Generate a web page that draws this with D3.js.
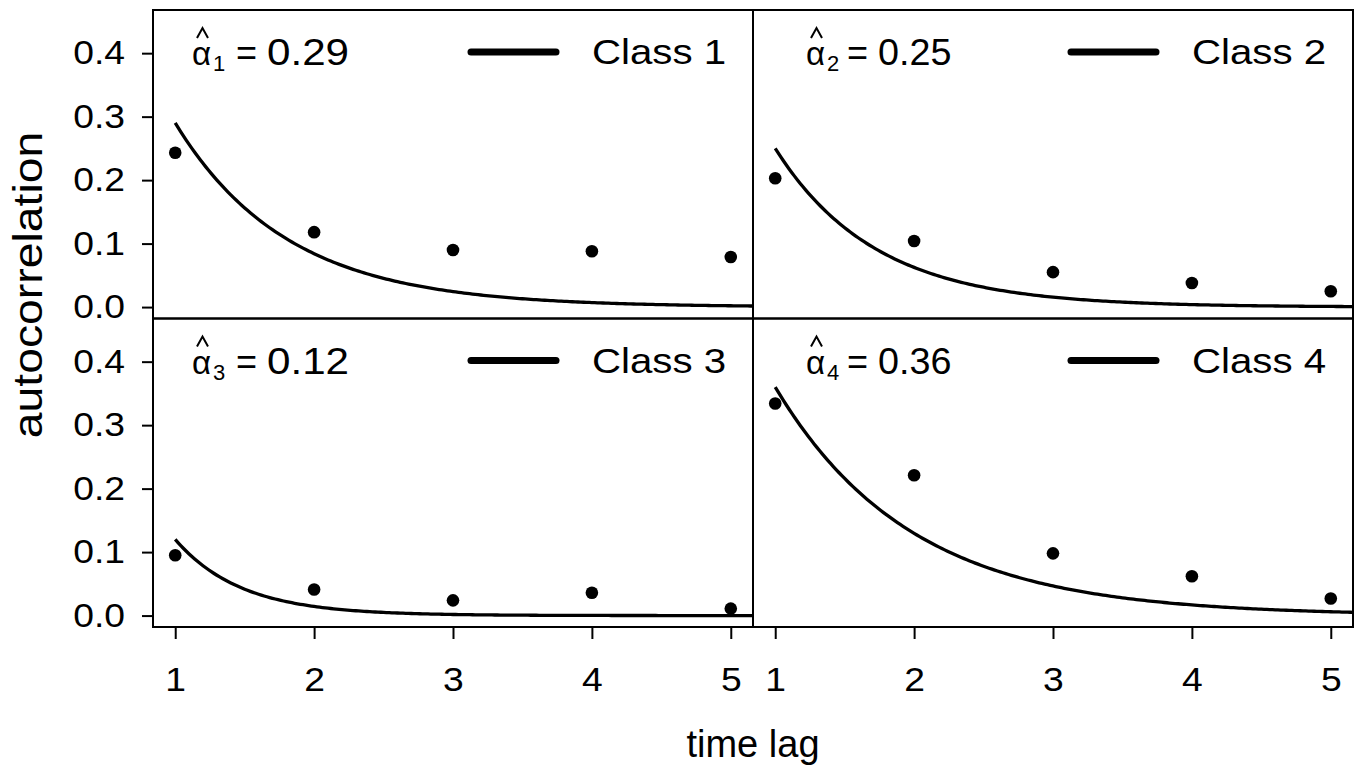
<!DOCTYPE html>
<html>
<head>
<meta charset="utf-8">
<script src="https://cdn.jsdelivr.net/npm/d3@7"></script>
<style>
  body { margin: 0; background: #fff; }
  text { font-family: "Liberation Sans", Arial, Helvetica, sans-serif; fill: #000; }
</style>
</head>
<body>
<div id="chart"></div>
<script>
// autocorrelation by time lag, one panel per class
const classes = ['Class 1', 'Class 2', 'Class 3', 'Class 4'];
const alphas = [0.29, 0.25, 0.12, 0.36];
const lags = [1, 2, 3, 4, 5];
const acfClass1 = [0.243, 0.118, 0.090, 0.088, 0.079];
const acfClass2 = [0.203, 0.104, 0.055, 0.038, 0.025];
const acfClass3 = [0.095, 0.041, 0.024, 0.036, 0.011];
const acfClass4 = [0.334, 0.221, 0.098, 0.062, 0.027];
const acf = [acfClass1, acfClass2, acfClass3, acfClass4];
const yTicks = [0.0, 0.1, 0.2, 0.3, 0.4];
const xTicks = [1, 2, 3, 4, 5];

const margin = {top: 10, left: 153};
const panelW = 600;
const panelH = 308.5;
const width = 1361, height = 768;
const stretch = 1.13; // glyphs in the original are a bit wider than Liberation Sans

const svg = d3.select('#chart').append('svg')
    .attr('width', width)
    .attr('height', height);

const x = d3.scaleLinear().domain([0.84, 5.16]).range([0, panelW]);
const y = d3.scaleLinear().domain([-0.018, 0.468]).range([panelH, 0]);

const line = d3.line()
    .x(d => x(d[0]))
    .y(d => y(d[1]));

classes.forEach((name, i) => {
  const col = i % 2, row = Math.floor(i / 2);
  const g = svg.append('g')
      .attr('transform', `translate(${margin.left + col * panelW},${margin.top + row * panelH})`);

  // fitted curve alpha^lag across the panel
  const tGrid = d3.range(1, 5.16, 0.02).concat([5.16]);
  g.append('path')
      .datum(tGrid.map(t => [t, Math.pow(alphas[i], t)]))
      .attr('fill', 'none')
      .attr('stroke', '#000')
      .attr('stroke-width', 3.3)
      .attr('d', line);

  g.selectAll('circle')
    .data(lags.map((l, j) => [l, acf[i][j]]))
    .join('circle')
      .attr('cx', d => x(d[0]))
      .attr('cy', d => y(d[1]))
      .attr('r', 6.3)
      .attr('fill', '#000');

  // legend
  g.append('line')
      .attr('x1', 318).attr('x2', 403)
      .attr('y1', 42).attr('y2', 42)
      .attr('stroke', '#000')
      .attr('stroke-width', 7)
      .attr('stroke-linecap', 'round');
  g.append('text')
      .attr('transform', `translate(439,54) scale(${stretch + 0.02},1)`)
      .attr('font-size', 35)
      .text(name);

  // alpha-hat annotation (right column is set a little tighter)
  const ax = col === 0 ? 39 : 53;
  const eqX = col === 0 ? 44 : 41;
  const numX = col === 0 ? 75 : 72;
  const numScale = col === 0 ? 1.14 : 1.02;
  const ann = g.append('g').attr('transform', `translate(${ax},0)`);
  ann.append('text')
      .attr('x', 0).attr('y', 55)
      .attr('font-size', 33)
      .text('α');
  ann.append('path')
      .attr('d', 'M5,28 L10.5,18 L16,28')
      .attr('fill', 'none')
      .attr('stroke', '#000')
      .attr('stroke-width', 2);
  ann.append('text')
      .attr('x', 21).attr('y', 61)
      .attr('font-size', 22)
      .text(i + 1);
  ann.append('text')
      .attr('x', eqX).attr('y', 55)
      .attr('font-size', 36)
      .text('=');
  ann.append('text')
      .attr('transform', `translate(${numX},55) scale(${numScale},1)`)
      .attr('font-size', 37)
      .text(alphas[i].toFixed(2));

  if (col === 0) {
    g.append('g')
        .call(d3.axisLeft(y).tickValues(yTicks).tickFormat(d3.format('.1f'))
          .tickSize(11).tickPadding(17))
        .call(a => a.select('.domain').remove())
        .call(a => a.selectAll('line').attr('stroke-width', 2))
        .call(a => a.selectAll('text')
          .attr('font-size', 33).attr('font-family', null)
          .attr('x', 0)
          .attr('transform', `translate(-28,0) scale(${stretch},1)`));
  }
  if (row === 1) {
    g.append('g')
        .attr('transform', `translate(0,${panelH})`)
        .call(d3.axisBottom(x).tickValues(xTicks).tickFormat(d3.format('d'))
          .tickSize(12).tickPadding(29))
        .call(a => a.select('.domain').remove())
        .call(a => a.selectAll('line').attr('stroke-width', 2))
        .call(a => a.selectAll('text')
          .attr('font-size', 33).attr('font-family', null)
          .attr('transform', `scale(${stretch},1)`));
  }

  g.append('rect')
      .attr('width', panelW)
      .attr('height', panelH)
      .attr('fill', 'none')
      .attr('stroke', '#000')
      .attr('stroke-width', 2);
});

svg.append('text')
    .attr('x', margin.left + panelW)
    .attr('y', 757)
    .attr('text-anchor', 'middle')
    .attr('font-size', 38)
    .text('time lag');

svg.append('text')
    .attr('transform', `translate(42,285) rotate(-90) scale(${stretch},1)`)
    .attr('text-anchor', 'middle')
    .attr('font-size', 41)
    .text('autocorrelation');
</script>
</body>
</html>
